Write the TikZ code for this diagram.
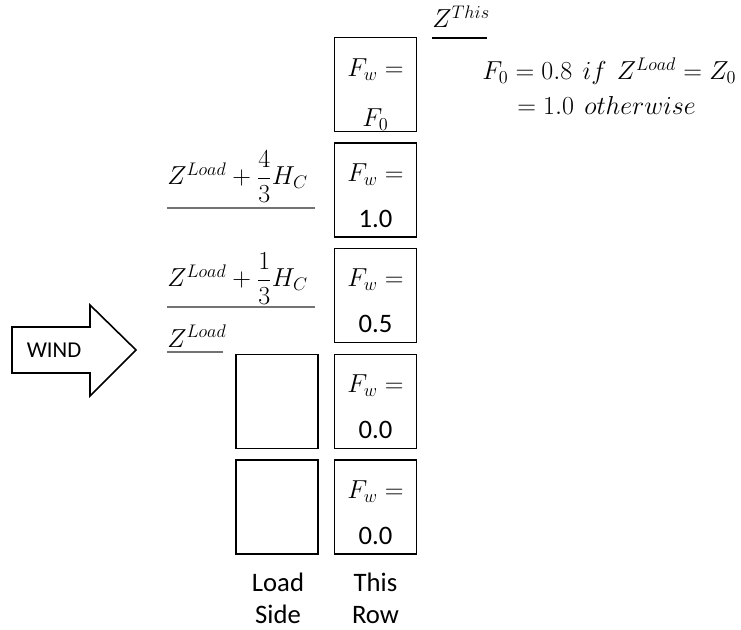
\RequirePackage{fix-cm}
\documentclass[tikz,border=0pt]{standalone}
\usepackage{amsmath}
\usepackage{fontspec}
\setmainfont{Carlito}
\usetikzlibrary{positioning,calc}

\begin{document}
\begin{tikzpicture}[x=0.75pt,y=-0.75pt,
  cell/.style={draw,line width=1.2pt,minimum width=61.5pt,minimum height=70.5pt,inner sep=0pt},
  lvl/.style={draw=black!55,line width=0.9pt},
  mth/.style={font=\fontsize{19.5}{23}\selectfont},
  every node/.style={font=\fontsize{20}{24}\selectfont,inner sep=0pt}]
\useasboundingbox (0,0) rectangle (741,630);
% this row column
\node[cell] (r1) at (375.5,84.5) {};
\node[cell,below=7.5pt of r1] (r2) {};
\node[cell,below=7.5pt of r2] (r3) {};
\node[cell,below=7.5pt of r3] (r4) {};
\node[cell,below=7.5pt of r4] (r5) {};
% load side column
\node[cell,left=11.25pt of r4] (l4) {};
\node[cell,below=7.5pt of l4] (l5) {};
\node[mth,anchor=base] (fw1) at ($(r1.north)+(0,40)$) {$F_w =$};
\node[mth,anchor=base] (val1) at ($(r1.north)+(0,90)$) {$F_0$};
\foreach \i/\v in {2/1.0,3/0.5,4/0.0,5/0.0}{
  \node[mth,anchor=base] (fw\i) at ($(r\i.north)+(0,39)$) {$F_w =$};
  \node[anchor=base] (val\i) at ($(r\i.north)+(0,85)$) {\v};
}
% levels
\node[mth,anchor=base west] (h4) at (167,185) {$Z^{Load}+\dfrac{4}{3}H_C$};
\draw[lvl] ($(h4.base west)+(0,23)$) -- ++(148,0);
\node[mth,anchor=base west] (h1) at (167,287) {$Z^{Load}+\dfrac{1}{3}H_C$};
\draw[lvl] ($(h1.base west)+(0,20)$) -- ++(148,0);
\node[mth,anchor=base west] (zl) at (167,347) {$Z^{Load}$};
\draw[lvl] ($(zl.base west)+(0,5)$) -- ++(56,0);
\node[mth,anchor=base west] (zt) at (432,28) {$Z^{This}$};
\draw[line width=0.8pt] ($(zt.base west)+(0,10)$) -- ++(55,0);
% factor
\node[mth,anchor=base west] (f0) at (482,80) {$F_0 = 0.8\ \,if\ \,Z^{Load} = Z_0$};
\node[mth,anchor=base west] (f1) at (517,115) {$= 1.0\ \,otherwise$};
% wind arrow
\draw[line width=1.2pt,line join=miter] (12,327) -- (90,327) -- (90,305) -- (136,350)
  -- (90,396) -- (90,373) -- (12,373) -- cycle;
\node[font=\fontsize{17}{20}\selectfont] (wind) at (54,350) {WIND};
\node[anchor=base] (ld) at (278,591) {Load};
\node[anchor=base] (sd) at (278,623) {Side};
\node[anchor=base] (th) at (375.5,591) {This};
\node[anchor=base] (rw) at (375.5,623) {Row};
\end{tikzpicture}
\end{document}
